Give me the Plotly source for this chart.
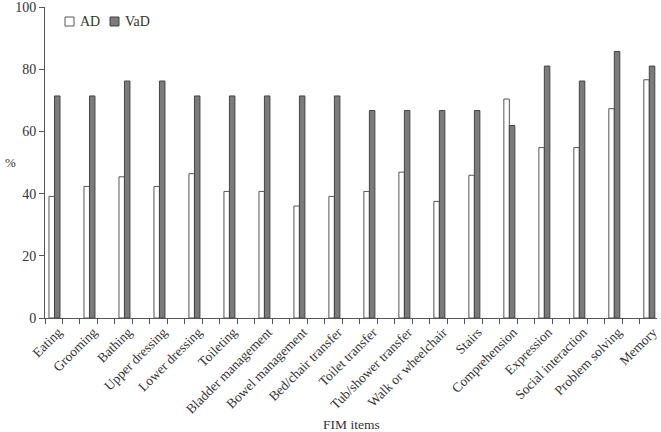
import plotly.graph_objects as go

categories = ["Eating", "Grooming", "Bathing", "Upper dressing", "Lower dressing",
              "Toileting", "Bladder management", "Bowel management", "Bed/chair transfer",
              "Toilet transfer", "Tub/shower transfer", "Walk or wheelchair", "Stairs",
              "Comprehension", "Expression", "Social interaction", "Problem solving", "Memory"]
ad = [39.1, 42.3, 45.4, 42.3, 46.4, 40.7, 40.7, 36.0, 39.1,
      40.7, 46.9, 37.5, 45.9, 70.4, 54.8, 54.8, 67.3, 76.6]
vad = [71.4, 71.4, 76.2, 76.2, 71.4, 71.4, 71.4, 71.4, 71.4,
       66.7, 66.7, 66.7, 66.7, 61.9, 81.0, 76.2, 85.7, 81.0]
y_ticks = [0, 20, 40, 60, 80, 100]

pos = list(range(len(categories)))
FONT = "Palatino Linotype, Book Antiqua, Palatino, Liberation Serif, serif"
bw = 0.157
AD_FILL, AD_LINE = "white", "#555"
VAD_FILL, VAD_LINE = "#7b7b7b", "#444"

fig = go.Figure()
fig.add_trace(go.Bar(x=pos, y=ad, name="AD", width=bw, offset=-bw,
                     marker=dict(color=AD_FILL, line=dict(color=AD_LINE, width=1))))
fig.add_trace(go.Bar(x=pos, y=vad, name="VaD", width=bw, offset=0,
                     marker=dict(color=VAD_FILL, line=dict(color=VAD_LINE, width=1))))

PL, PR, PT, PB = 45, 657, 7, 318
pw, ph = PR - PL, PB - PT

fig.update_layout(
    width=661, height=432,
    margin=dict(l=PL, r=661 - PR, t=PT, b=432 - PB, autoexpand=False),
    plot_bgcolor="white", paper_bgcolor="white",
    font=dict(family=FONT, size=13, color="#333"),
    showlegend=False,
    xaxis=dict(range=[-0.271, 17.22], showline=True, linecolor="#555", linewidth=1,
               tickmode="array", tickvals=[p + 0.22 for p in pos], ticktext=categories,
               tickangle=-45, ticks="", showgrid=False, zeroline=False,
               ticklabeloverflow="allow", automargin=False, ticklabelshift=-4,
               minor=dict(tickmode="linear", tick0=-0.271, dtick=0.5, ticks="outside",
                          ticklen=5, tickcolor="#555", showgrid=False),
               tickfont=dict(size=13.5)),
    yaxis=dict(range=[0, 100], showline=True, linecolor="#555", linewidth=1,
               tickvals=y_ticks, ticks="outside", ticklen=5, tickcolor="#555",
               showgrid=False, zeroline=False, ticklabeloverflow="allow", automargin=False,
               tickfont=dict(size=14)),
)

def px_x(x):
    return (x - PL) / pw

def px_y(y):
    return (PB - y) / ph

# legend drawn manually
for x0, fill, line, label in [(65, AD_FILL, AD_LINE, "AD"), (110, VAD_FILL, VAD_LINE, "VaD")]:
    fig.add_shape(type="rect", xref="paper", yref="paper",
                  x0=px_x(x0), x1=px_x(x0 + 9), y0=px_y(26), y1=px_y(17),
                  fillcolor=fill, line=dict(color=line, width=1))
    fig.add_annotation(text=label, xref="paper", yref="paper", x=px_x(x0 + 13), y=px_y(21),
                       xanchor="left", yanchor="middle", showarrow=False, font=dict(size=14))

fig.add_annotation(text="%", xref="paper", yref="paper", x=px_x(3), y=px_y(162),
                   xanchor="left", yanchor="middle", showarrow=False, font=dict(size=13))
fig.add_annotation(text="FIM items", xref="paper", yref="paper", x=0.5, y=px_y(424),
                   xanchor="center", yanchor="middle", showarrow=False, font=dict(size=13.5))
fig.write_html("out.html")
